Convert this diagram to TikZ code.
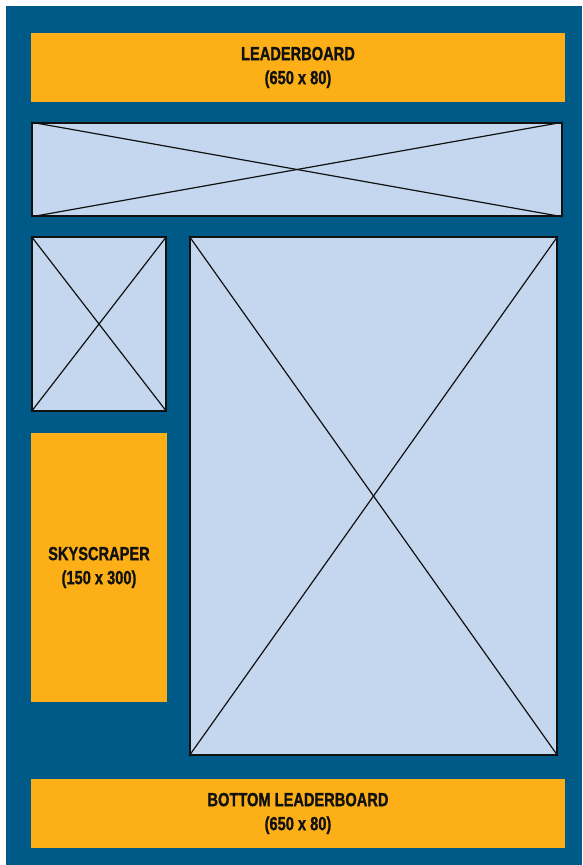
\documentclass[tikz,border=0pt]{standalone}
\usepackage{fontspec}
\setmainfont[FakeStretch=0.77,BoldFeatures={FakeBold=1}]{Liberation Sans}
\usetikzlibrary{positioning}
\definecolor{page}{HTML}{005A87}
\definecolor{adfill}{HTML}{FCAF17}
\definecolor{wire}{HTML}{C5D7EF}
\definecolor{ink}{HTML}{111111}
\newcommand{\PageW}{582}
\newcommand{\PageH}{865}

\begin{document}
\begin{tikzpicture}[
    x=1pt, y=-1pt,
    font=\fontsize{19}{24}\selectfont\bfseries, ink,
    adslot/.style={fill=adfill, draw=none, align=center, inner sep=0pt},
    wirebox/.style={fill=wire, draw=ink, line width=1.6pt, inner sep=0pt},
    cross/.style={draw=ink, line width=1.2pt},
  ]
\useasboundingbox (0,0) rectangle (\PageW,\PageH);
% page background
\fill[page] (6,6) rectangle (\PageW,\PageH);

% ad slots
\node[adslot, minimum width=534, minimum height=69] (lead) at (298,67.5) {LEADERBOARD\\(650 x 80)};
\node[adslot, minimum width=136, minimum height=269] (sky) at (99,567.5) {SKYSCRAPER\\(150 x 300)};
\node[adslot, minimum width=534, minimum height=69] (bottom) at (298,813.5) {BOTTOM LEADERBOARD\\(650 x 80)};

% placeholder content boxes, each crossed corner to corner
\node[wirebox, minimum width=530, minimum height=93] (hero) at (297,169.5) {};
\node[wirebox, minimum width=134, minimum height=174] (thumb) at (99,324) {};
\node[wirebox, minimum width=367, minimum height=518] (main) at (373.5,496) {};
\foreach \b in {hero, thumb, main} {
  \draw[cross] (\b.north west) -- (\b.south east);
  \draw[cross] (\b.south west) -- (\b.north east);
}

\end{tikzpicture}
\end{document}
